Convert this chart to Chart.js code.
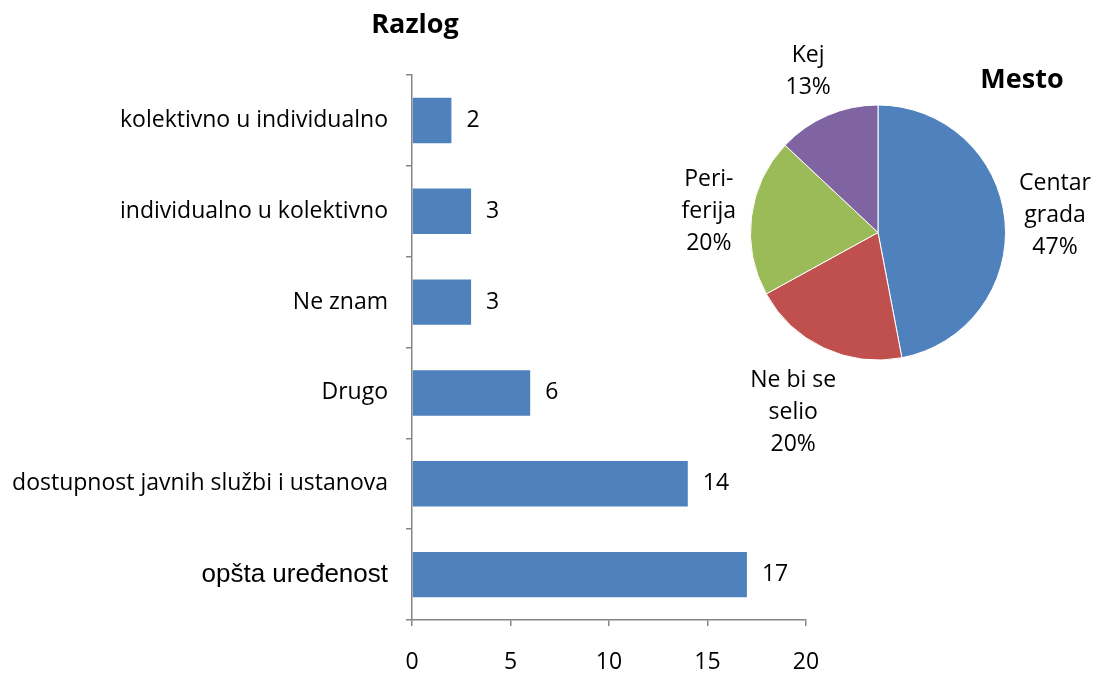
<!DOCTYPE html>
<html>
<head>
<meta charset="utf-8">
<script src="https://cdn.jsdelivr.net/npm/chart.js@4/dist/chart.umd.min.js"></script>
<style>
  body { margin: 0; background: #fff; }
  #wrap { position: relative; width: 1099px; height: 675px; }
  #wrap canvas { position: absolute; left: 0; top: 0; }
</style>
</head>
<body>
<div id="wrap">
  <canvas id="barChart" width="1099" height="675"></canvas>
  <canvas id="pieChart" width="1099" height="675"></canvas>
</div>
<script>
// podaci - razlog
const razlogLabels = ['kolektivno u individualno', 'individualno u kolektivno', 'Ne znam', 'Drugo', 'dostupnost javnih službi i ustanova', 'opšta uređenost'];
const razlogValues = [2, 3, 3, 6, 14, 17];
const xTicks = [0, 5, 10, 15, 20];

// podaci - mesto
const mestoLabels = ['Centar grada', 'Ne bi se selio', 'Periferija', 'Kej'];
const mestoValues = [47, 20, 20, 13];
const mestoLines = [['Centar', 'grada'], ['Ne bi se', 'selio'], ['Peri-', 'ferija'], ['Kej']];
const mestoColors = ['#4F81BD', '#C0504D', '#9BBB59', '#8064A2'];

const axisGray = '#868686';
const baseFont = '"Open Sans", "Noto Sans", sans-serif';
const txtSize = 23;

// brojevi desno od bara
const barLabels = {
    id: 'barLabels',
    afterDatasetsDraw(chart) {
        const ctx = chart.ctx;
        ctx.save();
        ctx.font = txtSize + 'px ' + baseFont;
        ctx.fillStyle = '#000';
        ctx.textAlign = 'left';
        ctx.textBaseline = 'middle';
        chart.getDatasetMeta(0).data.forEach((bar, i) => {
            ctx.fillText(String(razlogValues[i]), bar.x + 15, bar.y);
        });
        ctx.restore();
    }
};

const titleText = (text, x, y) => ({
    id: 'title_' + text,
    afterDraw(chart) {
        const ctx = chart.ctx;
        ctx.save();
        ctx.font = 'bold 27px ' + baseFont;
        ctx.fillStyle = '#000';
        ctx.textAlign = 'center';
        ctx.textBaseline = 'middle';
        ctx.fillText(text, x, y);
        ctx.restore();
    }
});

new Chart(document.getElementById('barChart'), {
    type: 'bar',
    data: {
        labels: razlogLabels,
        datasets: [{
            data: razlogValues,
            backgroundColor: '#4F81BD',
            barPercentage: 0.5,
            categoryPercentage: 1.0
        }]
    },
    options: {
        indexAxis: 'y',
        responsive: false,
        animation: false,
        layout: { padding: { left: 0, right: 293, top: 75, bottom: 0 } },
        plugins: { legend: { display: false }, tooltip: { enabled: false } },
        scales: {
            x: {
                min: 0,
                max: 20,
                afterBuildTicks(scale) { scale.ticks = xTicks.map(v => ({ value: v })); },
                afterFit(scale) { scale.height = 55; },
                border: { color: axisGray, width: 1.5 },
                grid: { drawOnChartArea: false, color: axisGray, tickLength: 6, lineWidth: 1.5 },
                ticks: { color: '#000', padding: 23, font: { family: baseFont, size: txtSize } }
            },
            y: {
                afterFit(scale) { scale.width = 412; },
                border: { color: axisGray, width: 1.5 },
                grid: { drawOnChartArea: false, color: axisGray, tickLength: 6, lineWidth: 1.5, offset: true },
                ticks: {
                    color: '#000',
                    padding: 18,
                    font: (c) => c.index === 5
                        ? { family: '"Liberation Sans", Arial, sans-serif', size: 26 }
                        : { family: baseFont, size: txtSize }
                }
            }
        }
    },
    plugins: [barLabels, titleText('Razlog', 415, 25)]
});

// oznake oko pite, kao u Excelu
const pieLabels = {
    id: 'pieLabels',
    afterDatasetsDraw(chart) {
        const ctx = chart.ctx;
        const lineH = 32;
        ctx.save();
        ctx.font = txtSize + 'px ' + baseFont;
        ctx.fillStyle = '#000';
        ctx.textAlign = 'center';
        ctx.textBaseline = 'middle';
        chart.getDatasetMeta(0).data.forEach((arc, i) => {
            const lines = mestoLines[i].concat([mestoValues[i] + '%']);
            const w = Math.max(...lines.map(l => ctx.measureText(l).width));
            const h = lines.length * lineH;
            const mid = (arc.startAngle + arc.endAngle) / 2;
            const ux = Math.cos(mid), uy = Math.sin(mid);
            const d = arc.outerRadius + 10 + Math.abs(ux) * w / 2 + Math.abs(uy) * h / 2;
            const cx = arc.x + ux * d;
            const cy = arc.y + uy * d;
            lines.forEach((l, k) => {
                ctx.fillText(l, cx, cy - h / 2 + lineH / 2 + k * lineH);
            });
        });
        ctx.restore();
    }
};

new Chart(document.getElementById('pieChart'), {
    type: 'pie',
    data: {
        labels: mestoLabels,
        datasets: [{
            data: mestoValues,
            backgroundColor: mestoColors,
            borderColor: '#fff',
            borderWidth: 1
        }]
    },
    options: {
        responsive: false,
        animation: false,
        layout: { padding: { left: 750, right: 93, top: 104, bottom: 314 } },
        plugins: { legend: { display: false }, tooltip: { enabled: false } }
    },
    plugins: [pieLabels, titleText('Mesto', 1022, 80)]
});
</script>
</body>
</html>
